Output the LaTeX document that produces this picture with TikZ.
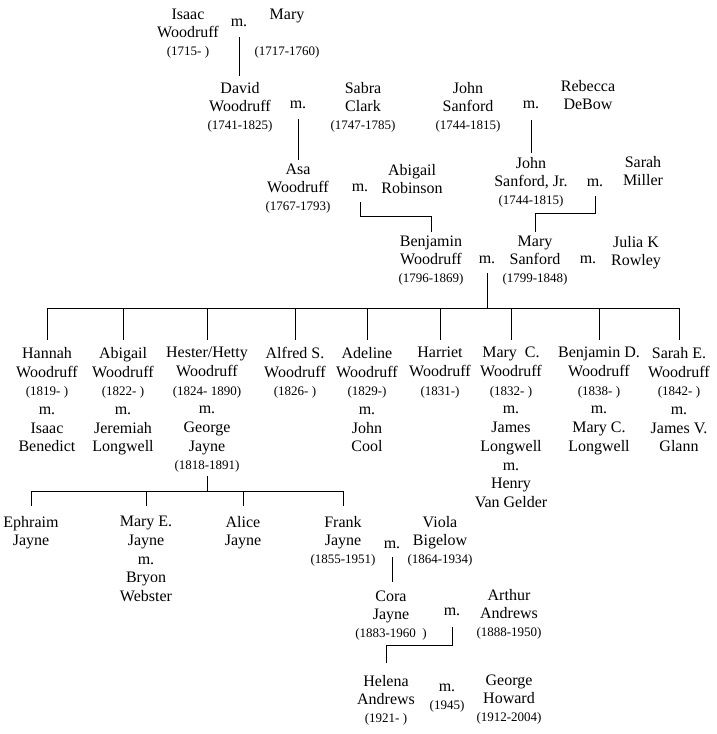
\documentclass[tikz,border=0pt]{standalone}
\usepackage{fontspec}
\setmainfont{Liberation Serif}
\usepackage{tikz}
\usetikzlibrary{positioning, calc}

\newcommand{\yr}[1]{{\fontsize{13}{18}\selectfont #1}}

\begin{document}
\begin{tikzpicture}[x=1pt, y=-1pt,
    person/.style={align=center, anchor=north, inner sep=0pt, font=\fontsize{16}{18}\selectfont},
    kid/.style={person, font=\fontsize{16}{18.7}\selectfont},
    wed/.style={inner sep=0pt, font=\fontsize{16}{18}\selectfont},
    link/.style={line width=0.8pt}]
    \useasboundingbox (0,0) rectangle (716,734);

    \node[person] (isaac) at (188,9) {Isaac\\Woodruff\\\yr{(1715- )}};
    \node[wed] (m0) at (239,23) {m.};
    \node[person] (mary) at (287,9) {Mary\\\mbox{}\\\yr{(1717-1760)}};

    \node[person] (david) at (240,82) {David\\Woodruff\\\yr{(1741-1825)}};
    \node[wed] (m1) at (298,105) {m.};
    \node[person] (sabra) at (363,82) {Sabra\\Clark\\\yr{(1747-1785)}};
    \node[person] (johns) at (468,82) {John\\Sanford\\\yr{(1744-1815)}};
    \node[wed] (m2) at (531,105) {m.};
    \node[person] (rebecca) at (588,80) {Rebecca\\DeBow};

    \node[person] (asa) at (298,164) {Asa\\Woodruff\\\yr{(1767-1793)}};
    \node[wed] (m3) at (360,188) {m.};
    \node[person] (abigail) at (412,164) {Abigail\\Robinson};
    \node[person] (johnjr) at (531,157) {John\\Sanford, Jr.\\\yr{(1744-1815)}};
    \node[wed] (m4) at (595,183) {m.};
    \node[person] (sarah) at (643,156) {Sarah\\Miller};

    \node[person] (benjamin) at (431,236) {Benjamin\\Woodruff\\\yr{(1796-1869)}};
    \node[wed] (m5) at (487,260) {m.};
    \node[person] (marys) at (535,236) {Mary\\Sanford\\\yr{(1799-1848)}};
    \node[wed] (m6) at (588,260) {m.};
    \node[person] (julia) at (636,236) {Julia K\\Rowley};

    \node[kid] (hannah) at (47,347) {Hannah\\Woodruff\\\yr{(1819- )}\\m.\\Isaac\\Benedict};
    \node[kid] (abigailw) at (123,347) {Abigail\\Woodruff\\\yr{(1822- )}\\m.\\Jeremiah\\Longwell};
    \node[kid] (hester) at (207,347) {Hester/Hetty\\Woodruff\\\yr{(1824- 1890)}\\m.\\George\\Jayne\\\yr{(1818-1891)}};
    \node[kid] (alfred) at (295,347) {Alfred S.\\Woodruff\\\yr{(1826- )}};
    \node[kid] (adeline) at (367,347) {Adeline\\Woodruff\\\yr{(1829-)}\\m.\\John\\Cool};
    \node[kid] (harriet) at (440,347) {Harriet\\Woodruff\\\yr{(1831-)}};
    \node[kid] (maryc) at (511,347) {Mary~~C.\\Woodruff\\\yr{(1832- )}\\m.\\James\\Longwell\\m.\\Henry\\Van Gelder};
    \node[kid] (benjd) at (599,347) {Benjamin D.\\Woodruff\\\yr{(1838- )}\\m.\\Mary C.\\Longwell};
    \node[kid] (sarahe) at (679,347) {Sarah E.\\Woodruff\\\yr{(1842- )}\\m.\\James V.\\Glann};

    \node[person] (ephraim) at (31,516) {Ephraim\\Jayne};
    \node[kid] (marye) at (146,516) {Mary E.\\Jayne\\m.\\Bryon\\Webster};
    \node[person] (alice) at (243,516) {Alice\\Jayne};
    \node[person] (frank) at (343,516) {Frank\\Jayne\\\yr{(1855-1951)}};
    \node[wed] (m7) at (392,545) {m.};
    \node[person] (viola) at (440,516) {Viola\\Bigelow\\\yr{(1864-1934)}};

    \node[person] (cora) at (391,591) {Cora\\Jayne\\\yr{(1883-1960~~)}};
    \node[wed] (m8) at (452,612) {m.};
    \node[person] (arthur) at (509,589) {Arthur\\Andrews\\\yr{(1888-1950)}};

    \node[person] (helena) at (386,675) {Helena\\Andrews\\\yr{(1921- )}};
    \node[person] (m9) at (447,684) {m.\\\yr{(1945)}};
    \node[person] (george) at (509,675) {George\\Howard\\\yr{(1912-2004)}};

    \draw[link] ([yshift=-10pt]m0.south) -- ([yshift=6pt]m0.south |- david.north);
    \draw[link] ([yshift=-10pt]m1.south) -- ([yshift=4pt]m1.south |- asa.north);
    \draw[link] ([yshift=-11pt]m2.south) -- ([yshift=4pt]m2.south |- johnjr.north);
    \draw[link] ([yshift=-10pt]m3.south) -- ++(0,-14pt) -| ([yshift=4pt]benjamin.north);
    \draw[link] ([yshift=-9pt]m4.south) -- ++(0,-17pt) -| ([yshift=4pt]marys.north);

    \draw[link] ([yshift=-9pt]m5.south) -- ([yshift=-44pt]m5.south) coordinate (bar);
    \draw[link] (hannah.north |- bar) -- (sarahe.north |- bar);
    \foreach \k in {hannah,abigailw,hester,alfred,adeline,harriet,maryc,benjd,sarahe}
        \draw[link] (\k.north |- bar) -- ([yshift=7pt]\k.north);

    \draw[link] ([yshift=-3pt]hester.south) -- ([yshift=-18pt]hester.south) coordinate (bar2);
    \draw[link] (ephraim.north |- bar2) -- (frank.north |- bar2);
    \foreach \k in {ephraim,marye,alice,frank}
        \draw[link] (\k.north |- bar2) -- ([yshift=10pt]\k.north);

    \draw[link] ([yshift=-8pt]m7.south) -- ([yshift=9pt]m7.south |- cora.north);
    \draw[link] ([yshift=-11pt]m8.south) -- ++(0,-18pt) -| ([yshift=12pt]helena.north);
\end{tikzpicture}
\end{document}
